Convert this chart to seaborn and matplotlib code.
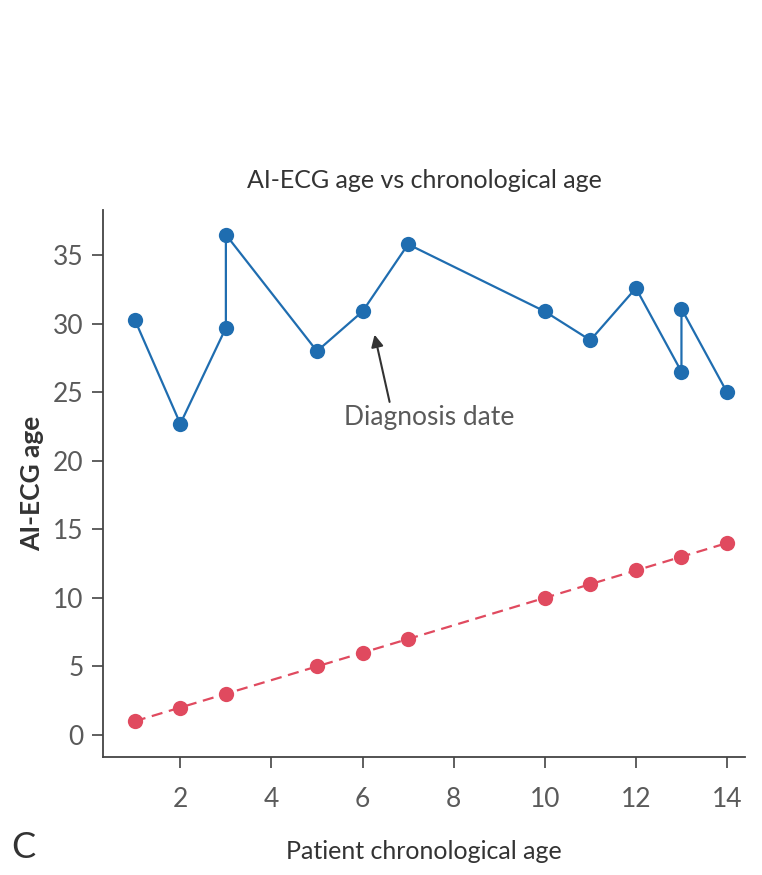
import matplotlib
matplotlib.use("Agg")
import matplotlib.pyplot as plt
import seaborn as sns
import pandas as pd

# AI-ECG age series (in plotting order)
ai_x = [1, 2, 3, 3, 5, 6, 7, 10, 11, 12, 13, 13, 14]
ai_y = [30.3, 22.7, 29.7, 36.5, 28.0, 30.9, 35.8, 30.9, 28.8, 32.6, 26.5, 31.1, 25.0]
# Chronological age series
chrono_x = [1, 2, 3, 5, 6, 7, 10, 11, 12, 13, 14]
chrono_y = [1, 2, 3, 5, 6, 7, 10, 11, 12, 13, 14]
x_ticks = [2, 4, 6, 8, 10, 12, 14]
y_ticks = [0, 5, 10, 15, 20, 25, 30, 35]

sns.set_theme(style="ticks")
plt.rcParams['font.family'] = ['Lato', 'DejaVu Sans']

df_ai = pd.DataFrame({"x": ai_x, "y": ai_y})
df_ch = pd.DataFrame({"x": chrono_x, "y": chrono_y})

fig = plt.figure(figsize=(7.62, 8.75), dpi=100)
ax = fig.add_axes([0.135, 0.135, 0.843, 0.625])

blue = "#1f6db0"
red = "#e04a5f"

sns.lineplot(data=df_ai, x="x", y="y", sort=False, estimator=None, ax=ax,
             color=blue, linewidth=1.6, marker="o", markersize=11,
             markeredgewidth=0, markerfacecolor=blue)
sns.lineplot(data=df_ch, x="x", y="y", sort=False, estimator=None, ax=ax,
             color=red, linewidth=1.6, linestyle=(0, (5, 3)), marker="o",
             markersize=11, markeredgewidth=0, markerfacecolor=red)

ax.set_xlim(0.3, 14.4)
ax.set_ylim(-1.6, 38.3)
ax.set_xticks(x_ticks)
ax.set_yticks(y_ticks)
ax.tick_params(axis="both", labelsize=19, colors="#444444", length=8, width=1.2,
               labelcolor="#5a5a5a")
ax.tick_params(axis="x", pad=14)
ax.tick_params(axis="y", pad=6)
sns.despine(ax=ax)
ax.spines["left"].set_color("#444444")
ax.spines["bottom"].set_color("#444444")
ax.spines["left"].set_linewidth(1.3)
ax.spines["bottom"].set_linewidth(1.3)

ax.set_xlabel("Patient chronological age", fontsize=18, color="#333333", labelpad=20)
ax.set_ylabel("AI-ECG age", fontsize=19, color="#333333", fontweight="bold", labelpad=6)
ax.set_title("AI-ECG age vs chronological age", fontsize=18, color="#333333", pad=16)

ax.annotate("Diagnosis date", xy=(6.25, 29.4), xytext=(5.6, 22.6),
            fontsize=19, color="#5a5a5a",
            arrowprops=dict(arrowstyle="-|>", color="#333333", lw=1.5,
                            mutation_scale=18, shrinkA=0, shrinkB=2,
                            relpos=(0.27, 1.0)))

fig.text(0.015, 0.02, "C", fontsize=26, color="#333333")

fig.savefig("out.png", dpi=100)
